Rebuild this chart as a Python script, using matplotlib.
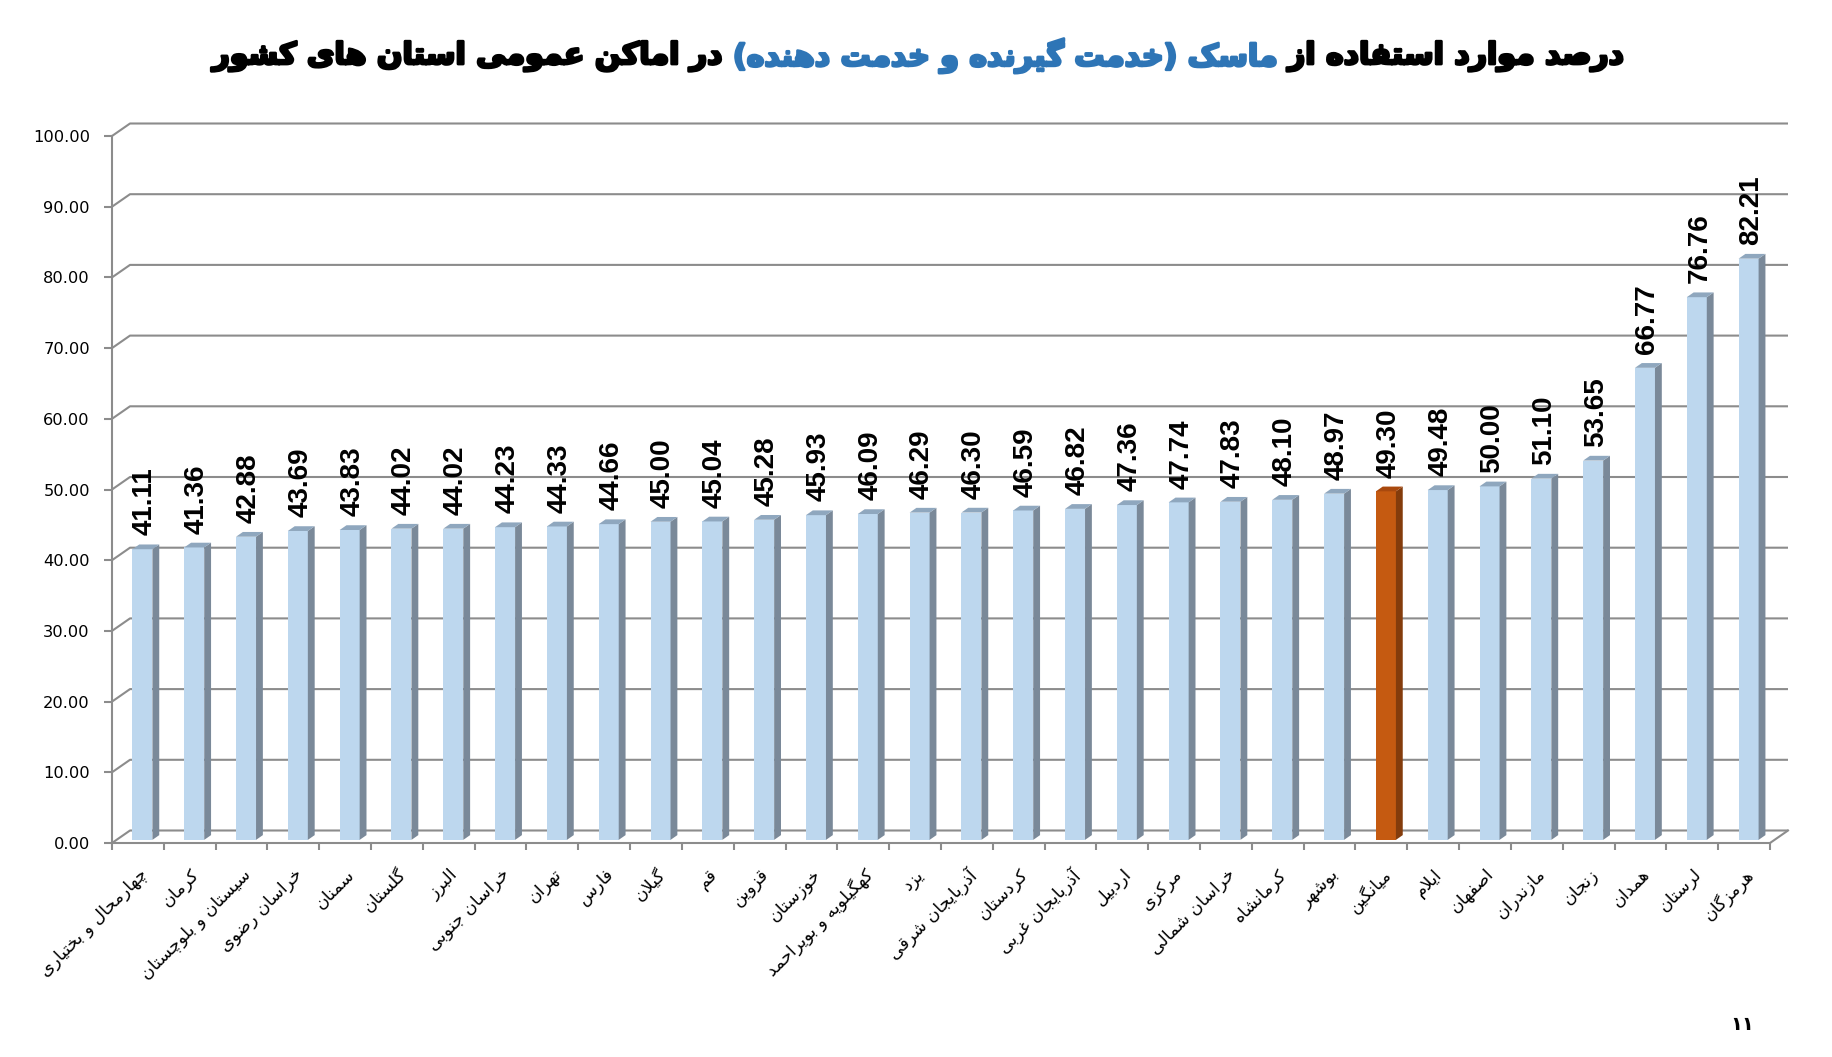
import numpy as np
import matplotlib
matplotlib.use('Agg')
import matplotlib.pyplot as plt
from matplotlib.patches import Polygon
import matplotlib.patheffects as pe

# ---------------- data ----------------
provinces = ['چهارمحال و بختیاری', 'کرمان', 'سیستان و بلوچستان', 'خراسان رضوی', 'سمنان',
             'گلستان', 'البرز', 'خراسان جنوبی', 'تهران', 'فارس', 'گیلان', 'قم', 'قزوین',
             'خوزستان', 'کهگیلویه و بویراحمد', 'یزد', 'آذربایجان شرقی', 'کردستان',
             'آذربایجان غربی', 'اردبیل', 'مرکزی', 'خراسان شمالی', 'کرمانشاه', 'بوشهر',
             'میانگین', 'ایلام', 'اصفهان', 'مازندران', 'زنجان', 'همدان', 'لرستان', 'هرمزگان']
values = [41.11, 41.36, 42.88, 43.69, 43.83, 44.02, 44.02, 44.23, 44.33, 44.66, 45.00,
          45.04, 45.28, 45.93, 46.09, 46.29, 46.30, 46.59, 46.82, 47.36, 47.74, 47.83,
          48.10, 48.97, 49.30, 49.48, 50.00, 51.10, 53.65, 66.77, 76.76, 82.21]
highlight = 'میانگین'
y_ticks = [0, 10, 20, 30, 40, 50, 60, 70, 80, 90, 100]
title_right = 'درصد موارد استفاده از'
title_mid = 'ماسک (خدمت گیرنده و خدمت دهنده)'
title_left = 'در اماکن عمومی استان های کشور'
page_number = '۱۱'

# ---------------- minimal Persian shaping (presentation forms + RTL) ----------------
FORMS = {
    'ا': ('\uFE8D', '\uFE8E', None, None), 'آ': ('\uFE81', '\uFE82', None, None),
    'ب': ('\uFE8F', '\uFE90', '\uFE91', '\uFE92'), 'پ': ('\uFB56', '\uFB57', '\uFB58', '\uFB59'),
    'ت': ('\uFE95', '\uFE96', '\uFE97', '\uFE98'), 'ث': ('\uFE99', '\uFE9A', '\uFE9B', '\uFE9C'),
    'ج': ('\uFE9D', '\uFE9E', '\uFE9F', '\uFEA0'), 'چ': ('\uFB7A', '\uFB7B', '\uFB7C', '\uFB7D'),
    'ح': ('\uFEA1', '\uFEA2', '\uFEA3', '\uFEA4'), 'خ': ('\uFEA5', '\uFEA6', '\uFEA7', '\uFEA8'),
    'د': ('\uFEA9', '\uFEAA', None, None), 'ذ': ('\uFEAB', '\uFEAC', None, None),
    'ر': ('\uFEAD', '\uFEAE', None, None), 'ز': ('\uFEAF', '\uFEB0', None, None),
    'ژ': ('\uFB8A', '\uFB8B', None, None),
    'س': ('\uFEB1', '\uFEB2', '\uFEB3', '\uFEB4'), 'ش': ('\uFEB5', '\uFEB6', '\uFEB7', '\uFEB8'),
    'ص': ('\uFEB9', '\uFEBA', '\uFEBB', '\uFEBC'), 'ض': ('\uFEBD', '\uFEBE', '\uFEBF', '\uFEC0'),
    'ط': ('\uFEC1', '\uFEC2', '\uFEC3', '\uFEC4'), 'ظ': ('\uFEC5', '\uFEC6', '\uFEC7', '\uFEC8'),
    'ع': ('\uFEC9', '\uFECA', '\uFECB', '\uFECC'), 'غ': ('\uFECD', '\uFECE', '\uFECF', '\uFED0'),
    'ف': ('\uFED1', '\uFED2', '\uFED3', '\uFED4'), 'ق': ('\uFED5', '\uFED6', '\uFED7', '\uFED8'),
    'ک': ('\uFB8E', '\uFB8F', '\uFB90', '\uFB91'), 'گ': ('\uFB92', '\uFB93', '\uFB94', '\uFB95'),
    'ل': ('\uFEDD', '\uFEDE', '\uFEDF', '\uFEE0'), 'م': ('\uFEE1', '\uFEE2', '\uFEE3', '\uFEE4'),
    'ن': ('\uFEE5', '\uFEE6', '\uFEE7', '\uFEE8'), 'ه': ('\uFEE9', '\uFEEA', '\uFEEB', '\uFEEC'),
    'و': ('\uFEED', '\uFEEE', None, None), 'ی': ('\uFBFC', '\uFBFD', '\uFBFE', '\uFBFF'),
}
LAMALEF = {'ا': ('\uFEFB', '\uFEFC'), 'آ': ('\uFEF5', '\uFEF6')}
MIRROR = {'(': ')', ')': '('}


def shape(s):
    out = []
    i = 0
    n = len(s)
    while i < n:
        c = s[i]
        if c not in FORMS:
            out.append(c)
            i += 1
            continue
        p = s[i - 1] if i > 0 else ''
        joins_prev = p in FORMS and FORMS[p][2] is not None
        if c == 'ل' and i + 1 < n and s[i + 1] in LAMALEF:
            out.append(LAMALEF[s[i + 1]][1 if joins_prev else 0])
            i += 2
            continue
        nx = s[i + 1] if i + 1 < n else ''
        joins_next = FORMS[c][2] is not None and nx in FORMS
        iso, fin, ini, med = FORMS[c]
        if joins_prev and joins_next:
            out.append(med)
        elif joins_prev:
            out.append(fin)
        elif joins_next:
            out.append(ini)
        else:
            out.append(iso)
        i += 1
    return ''.join(MIRROR.get(ch, ch) for ch in reversed(out))


# ---------------- figure geometry ----------------
W, H = 1833, 1057
fig = plt.figure(figsize=(W / 100, H / 100), dpi=100)
fig.patch.set_facecolor('white')
x0_px, x1_px = 112, 1770
y0_px, y100_px = 843, 136
ax = fig.add_axes([x0_px / W, 1 - y0_px / H, (x1_px - x0_px) / W, (y0_px - y100_px) / H])
n = len(values)
ax.set_xlim(0, n)
ax.set_ylim(0, 100)
px_x = n / (x1_px - x0_px)
px_y = 100 / (y0_px - y100_px)
ddx, ddy = 18 * px_x, 12.5 * px_y          # depth of the floor
grid_c = '#8c8c8c'

# back wall gridlines + side wall diagonals
for v in y_ticks:
    ax.plot([0, ddx, n + ddx], [v, v + ddy, v + ddy], color=grid_c, lw=1.5,
            clip_on=False, zorder=1, solid_capstyle='butt')
ax.plot([n, n + ddx], [0, ddy], color=grid_c, lw=1.5, clip_on=False, zorder=1)

# bars (pseudo 3D)
f = 0.25
bdx, bdy = 0.38 * ddx, 0.38 * ddy
bw = 20 * px_x
b0 = f * ddy
xc = np.arange(n) + 0.5 + f * ddx
front_cols = ['#C55A11' if p == highlight else '#BDD7EE' for p in provinces]
side_cols = ['#843C0C' if p == highlight else '#7A8999' for p in provinces]
top_cols = ['#A9490E' if p == highlight else '#8FA7BE' for p in provinces]
ax.bar(xc, values, width=bw, bottom=b0, color=front_cols, linewidth=0, zorder=3)
for i, v in enumerate(values):
    xl, xr = xc[i] - bw / 2, xc[i] + bw / 2
    top = b0 + v
    ax.add_patch(Polygon([(xr, b0), (xr + bdx, b0 + bdy), (xr + bdx, top + bdy), (xr, top)],
                         closed=True, facecolor=side_cols[i], edgecolor='none', zorder=3,
                         clip_on=False))
    ax.add_patch(Polygon([(xl, top), (xr, top), (xr + bdx, top + bdy), (xl + bdx, top + bdy)],
                         closed=True, facecolor=top_cols[i], edgecolor='none', zorder=3,
                         clip_on=False))
    ax.text(xc[i] + 2.5 * px_x, top + bdy + 9 * px_y, f'{v:.2f}', rotation=90,
            ha='center', va='bottom', fontsize=20, fontweight='bold',
            family='Liberation Sans', color='black', zorder=4, clip_on=False)

# axes styling
for s in ['top', 'right']:
    ax.spines[s].set_visible(False)
for s in ['left', 'bottom']:
    ax.spines[s].set_color(grid_c)
    ax.spines[s].set_linewidth(1.5)
    ax.spines[s].set_zorder(2)
ax.set_yticks(y_ticks)
ax.set_yticklabels([f'{t:.2f}' for t in y_ticks])
ax.tick_params(axis='y', length=6, width=1.5, color=grid_c, pad=10, labelsize=11.7,
               labelcolor='black')
ax.set_xticks(np.arange(n + 1))
ax.set_xticklabels([])
ax.tick_params(axis='x', which='major', length=5, width=1.5, color=grid_c)
ax.set_xticks(np.arange(n) + 0.5, [shape(p) for p in provinces], minor=True)
ax.tick_params(axis='x', which='minor', length=0, pad=16, labelsize=12.5)
for lbl in ax.get_xticklabels(minor=True):
    lbl.set_rotation(45)
    lbl.set_ha('right')
    lbl.set_va('top')
    lbl.set_rotation_mode('anchor')
    lbl.set_family('DejaVu Sans')
ax.patch.set_alpha(0)

# title in three coloured pieces (visual order left -> right)
pieces = [(shape(title_left), 'black'), (shape(title_mid), '#2E75B6'),
          (shape(title_right), 'black')]
target_l, target_r, ty = 214, 1623, 56
fs0 = 26
texts = [fig.text(0, 1 - ty / H, s, fontsize=fs0, fontweight='bold', color=c,
                  family='DejaVu Sans', ha='left', va='center',
                  path_effects=[pe.withStroke(linewidth=2.0, foreground=c)])
         for s, c in pieces]
fig.canvas.draw()
r = fig.canvas.get_renderer()
ws = [t.get_window_extent(r).width for t in texts]
gap_em = 0.3
tot = sum(ws) + 2 * gap_em * fs0 * 100 / 72
fs = fs0 * (target_r - target_l) / tot
for t in texts:
    t.set_fontsize(fs)
fig.canvas.draw()
ws = [t.get_window_extent(r).width for t in texts]
gap = gap_em * fs * 100 / 72
tot = sum(ws) + 2 * gap
x = (target_l + target_r) / 2 - tot / 2
for t, w in zip(texts, ws):
    t.set_x(x / W)
    x += w + gap

fig.text(1742 / W, 1 - 1025 / H, shape(page_number), fontsize=14, fontweight='bold',
         family='DejaVu Sans', ha='center', va='center')

fig.savefig('out.png', dpi=100, facecolor='white')
